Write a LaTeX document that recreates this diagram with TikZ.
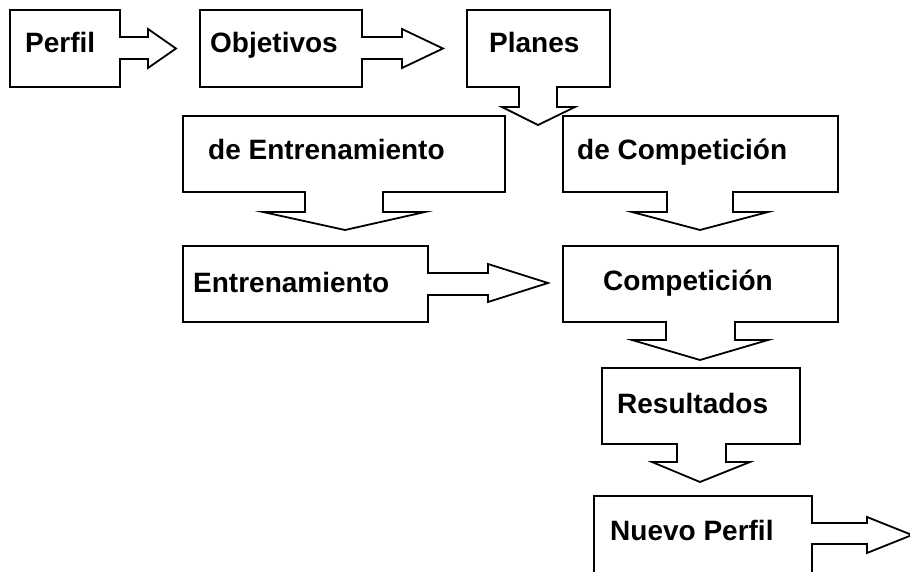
\documentclass[tikz,border=0pt]{standalone}
\usepackage{fontspec}
\setmainfont{Liberation Sans}
\begin{document}
\begin{tikzpicture}[x=1pt,y=-1pt,
  callout/.style={draw=black,line width=1.8pt,line join=miter,fill=white},
  lbl/.style={anchor=base west,inner sep=0pt,font=\fontsize{28}{32}\selectfont\bfseries}]
\useasboundingbox (0,0) rectangle (910,572);
\clip (0,0) rectangle (910,572);
% Perfil
\draw[callout] (10,10) -- (120,10) -- (120,37) -- (148,37) -- (148,29) -- (176,48.5) -- (148,68) -- (148,59) -- (120,59) -- (120,87) -- (10,87) -- cycle;
\node[lbl] (perfil) at (25,53) {Perfil};
% Objetivos
\draw[callout] (200,10) -- (362,10) -- (362,37) -- (402,37) -- (402,29) -- (443,48.5) -- (402,68) -- (402,59) -- (362,59) -- (362,87) -- (200,87) -- cycle;
\node[lbl] (objetivos) at (210,53) {Objetivos};
% de Entrenamiento
\draw[callout] (183,116) -- (505,116) -- (505,192) -- (383,192) -- (383,212) -- (425,212) -- (345,230) -- (263,212) -- (305,212) -- (305,192) -- (183,192) -- cycle;
\node[lbl] (deentr) at (208,160) {de Entrenamiento};
% de Competicion
\draw[callout] (563,116) -- (838,116) -- (838,192) -- (733,192) -- (733,212) -- (768,212) -- (700,230) -- (632,212) -- (667,212) -- (667,192) -- (563,192) -- cycle;
\node[lbl] (decomp) at (577,160) {de Competición};
% Planes (drawn after so its arrow sits on top)
\draw[callout] (467,10) -- (610,10) -- (610,87) -- (557,87) -- (557,107) -- (575,107) -- (538,125) -- (502,107) -- (519,107) -- (519,87) -- (467,87) -- cycle;
\node[lbl] (planes) at (489,53) {Planes};
% Entrenamiento
\draw[callout] (183,246) -- (428,246) -- (428,273) -- (488,273) -- (488,264) -- (548,283) -- (488,302) -- (488,295) -- (428,295) -- (428,322) -- (183,322) -- cycle;
\node[lbl] (entr) at (193,292) {Entrenamiento};
% Competicion
\draw[callout] (563,246) -- (838,246) -- (838,322) -- (735,322) -- (735,340) -- (768,340) -- (700,360) -- (632,340) -- (666,340) -- (666,322) -- (563,322) -- cycle;
\node[lbl] (comp) at (603,290) {Competición};
% Resultados
\draw[callout] (602,368) -- (800,368) -- (800,444) -- (726,444) -- (726,462) -- (750,462) -- (700,482) -- (652,462) -- (677,462) -- (677,444) -- (602,444) -- cycle;
\node[lbl] (result) at (617,413) {Resultados};
% Nuevo Perfil
\draw[callout] (594,496) -- (812,496) -- (812,523) -- (867,523) -- (867,517) -- (912,535) -- (867,553) -- (867,544) -- (812,544) -- (812,600) -- (594,600) -- cycle;
\node[lbl] (nuevo) at (610,540) {Nuevo Perfil};
\end{tikzpicture}
\end{document}
